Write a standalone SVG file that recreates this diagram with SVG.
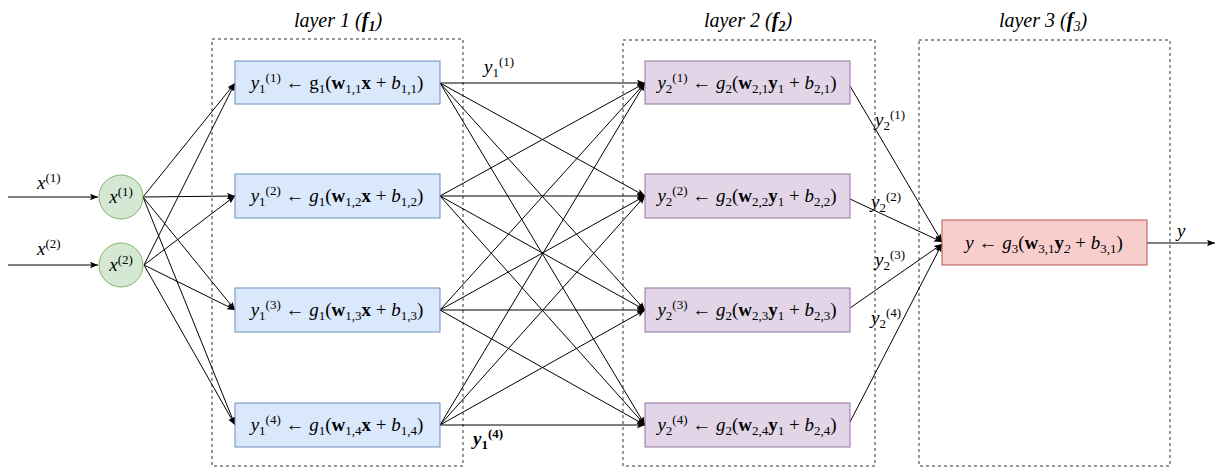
<svg xmlns="http://www.w3.org/2000/svg" width="1217" height="472" viewBox="0 0 1217 472" font-family="'Liberation Serif', 'DejaVu Serif', serif">
<style>
text, tspan{font-family:'Liberation Serif','DejaVu Serif',serif}
text{fill:#000}
.t{font-size:19px}
.h{font-size:20px}
.s{font-size:13px}
.i{font-style:italic}
.b{font-weight:bold}
.frame{fill:none;stroke:#333;stroke-width:1;stroke-dasharray:3 3}
.l1{fill:#dae8fc;stroke:#6c8ebf}
.l2{fill:#e1d5e7;stroke:#9673a6}
.l3{fill:#f8cecc;stroke:#b85450}
.in{fill:#d5e8d4;stroke:#82b366}
.c line{stroke:#000;stroke-width:1;marker-end:url(#a)}
</style>
<defs>
<marker id="a" viewBox="0 0 10 10" refX="10" refY="5" markerWidth="8" markerHeight="8" markerUnits="userSpaceOnUse" orient="auto">
<path d="M0,1 L10,5 L0,9 L2,5 Z" fill="#000"/>
</marker>
</defs>
<rect width="1217" height="472" fill="#fff"/>

<g id="frames">
<rect class="frame" x="212" y="39" width="251" height="427"/>
<rect class="frame" x="623" y="40" width="252" height="426"/>
<rect class="frame" x="919" y="40" width="251" height="426"/>
<text class="h i" x="338" y="27" text-anchor="middle">layer 1 (<tspan class="b">f</tspan><tspan class="b" dy="4" font-size="14">1</tspan><tspan dy="-4">)</tspan></text>
<text class="h i" x="748" y="27" text-anchor="middle">layer 2 (<tspan class="b">f</tspan><tspan class="b" dy="4" font-size="14">2</tspan><tspan dy="-4">)</tspan></text>
<text class="h i" x="1043" y="27" text-anchor="middle">layer 3 (<tspan class="b">f</tspan><tspan dy="4" font-size="14">3</tspan><tspan dy="-4">)</tspan></text>
</g>

<g id="connectors" class="c">
<line x1="8" y1="197" x2="98" y2="197"/>
<line x1="8" y1="265" x2="98" y2="265"/>
<line x1="143" y1="197" x2="235" y2="83"/>
<line x1="143" y1="197" x2="235" y2="196"/>
<line x1="143" y1="197" x2="235" y2="310"/>
<line x1="143" y1="197" x2="235" y2="425"/>
<line x1="144" y1="265" x2="235" y2="83"/>
<line x1="144" y1="265" x2="235" y2="196"/>
<line x1="144" y1="265" x2="235" y2="310"/>
<line x1="144" y1="265" x2="235" y2="425"/>
<line x1="440" y1="83" x2="645" y2="83"/>
<line x1="440" y1="83" x2="645" y2="196"/>
<line x1="440" y1="83" x2="645" y2="310"/>
<line x1="440" y1="83" x2="645" y2="425"/>
<line x1="440" y1="196" x2="645" y2="83"/>
<line x1="440" y1="196" x2="645" y2="196"/>
<line x1="440" y1="196" x2="645" y2="310"/>
<line x1="440" y1="196" x2="645" y2="425"/>
<line x1="440" y1="310" x2="645" y2="83"/>
<line x1="440" y1="310" x2="645" y2="196"/>
<line x1="440" y1="310" x2="645" y2="310"/>
<line x1="440" y1="310" x2="645" y2="425"/>
<line x1="440" y1="425" x2="645" y2="83"/>
<line x1="440" y1="425" x2="645" y2="196"/>
<line x1="440" y1="425" x2="645" y2="310"/>
<line x1="440" y1="425" x2="645" y2="425"/>
<line x1="850" y1="86" x2="942" y2="242"/>
<line x1="850" y1="199" x2="942" y2="242"/>
<line x1="850" y1="308" x2="942" y2="244"/>
<line x1="850" y1="422" x2="942" y2="244"/>
<line x1="1147" y1="243" x2="1215" y2="243"/>
</g>

<g id="labels">
<text class="t i" x="37" y="189">x<tspan class="s" dy="-7" font-style="normal">(1)</tspan></text>
<text class="t i" x="37" y="255">x<tspan class="s" dy="-7" font-style="normal">(2)</tspan></text>
<text class="t i" x="484" y="73">y<tspan class="s" dy="4" font-style="normal">1</tspan><tspan class="s" dy="-11" font-style="normal">(1)</tspan></text>
<text class="t i b" x="473" y="445">y<tspan class="s" dy="4" font-style="normal">1</tspan><tspan class="s" dy="-11" font-style="normal">(4)</tspan></text>
<text class="t i" x="875" y="126">y<tspan class="s" dy="4" font-style="normal">2</tspan><tspan class="s" dy="-11" font-style="normal">(1)</tspan></text>
<text class="t i" x="871" y="208">y<tspan class="s" dy="4" font-style="normal">2</tspan><tspan class="s" dy="-11" font-style="normal">(2)</tspan></text>
<text class="t i" x="875" y="266">y<tspan class="s" dy="4" font-style="normal">2</tspan><tspan class="s" dy="-11" font-style="normal">(3)</tspan></text>
<text class="t i" x="871" y="324">y<tspan class="s" dy="4" font-style="normal">2</tspan><tspan class="s" dy="-11" font-style="normal">(4)</tspan></text>
<text class="t i" x="1177" y="237">y</text>
</g>

<g id="in1"><circle class="in" cx="121" cy="197" r="22"/><text class="t i" x="121" y="203" text-anchor="middle">x<tspan class="s" dy="-7" font-style="normal">(1)</tspan></text></g>
<g id="in2"><circle class="in" cx="121" cy="265" r="22"/><text class="t i" x="121" y="271" text-anchor="middle">x<tspan class="s" dy="-7" font-style="normal">(2)</tspan></text></g>

<g id="n11"><rect class="l1" x="235" y="61" width="205" height="43"/>
<text class="t" x="337" y="89" text-anchor="middle"><tspan class="i">y</tspan><tspan class="s" dy="4">1</tspan><tspan class="s" dy="-11">(1)</tspan><tspan dy="7"> ← g</tspan><tspan class="s" dy="4">1</tspan><tspan dy="-4">(</tspan><tspan class="b">w</tspan><tspan class="s" dy="4">1,1</tspan><tspan class="b" dy="-4">x</tspan> + <tspan class="i">b</tspan><tspan class="s" dy="4">1,1</tspan><tspan dy="-4">)</tspan></text></g>
<g id="n12"><rect class="l1" x="235" y="174" width="205" height="44"/>
<text class="t" x="337" y="202" text-anchor="middle"><tspan class="i">y</tspan><tspan class="s" dy="4">1</tspan><tspan class="s" dy="-11">(2)</tspan><tspan dy="7"> ← </tspan><tspan class="i">g</tspan><tspan class="s" dy="4">1</tspan><tspan dy="-4">(</tspan><tspan class="b">w</tspan><tspan class="s" dy="4">1,2</tspan><tspan class="b" dy="-4">x</tspan> + <tspan class="i">b</tspan><tspan class="s" dy="4">1,2</tspan><tspan dy="-4">)</tspan></text></g>
<g id="n13"><rect class="l1" x="235" y="288" width="205" height="44"/>
<text class="t" x="337" y="316" text-anchor="middle"><tspan class="i">y</tspan><tspan class="s" dy="4">1</tspan><tspan class="s" dy="-11">(3)</tspan><tspan dy="7"> ← </tspan><tspan class="i">g</tspan><tspan class="s" dy="4">1</tspan><tspan dy="-4">(</tspan><tspan class="b">w</tspan><tspan class="s" dy="4">1,3</tspan><tspan class="b" dy="-4">x</tspan> + <tspan class="i">b</tspan><tspan class="s" dy="4">1,3</tspan><tspan dy="-4">)</tspan></text></g>
<g id="n14"><rect class="l1" x="235" y="403" width="205" height="44"/>
<text class="t" x="337" y="431" text-anchor="middle"><tspan class="i">y</tspan><tspan class="s" dy="4">1</tspan><tspan class="s" dy="-11">(4)</tspan><tspan dy="7"> ← </tspan><tspan class="i">g</tspan><tspan class="s" dy="4">1</tspan><tspan dy="-4">(</tspan><tspan class="b">w</tspan><tspan class="s" dy="4">1,4</tspan><tspan class="b" dy="-4">x</tspan> + <tspan class="i">b</tspan><tspan class="s" dy="4">1,4</tspan><tspan dy="-4">)</tspan></text></g>

<g id="n21"><rect class="l2" x="645" y="61" width="205" height="43"/>
<text class="t" x="747" y="89" text-anchor="middle"><tspan class="i">y</tspan><tspan class="s" dy="4">2</tspan><tspan class="s" dy="-11">(1)</tspan><tspan dy="7"> ← </tspan><tspan class="i">g</tspan><tspan class="s" dy="4">2</tspan><tspan dy="-4">(</tspan><tspan class="b">w</tspan><tspan class="s" dy="4">2,1</tspan><tspan class="b" dy="-4">y</tspan><tspan class="s" dy="4">1</tspan><tspan dy="-4"> + </tspan><tspan class="i">b</tspan><tspan class="s" dy="4">2,1</tspan><tspan dy="-4">)</tspan></text></g>
<g id="n22"><rect class="l2" x="645" y="174" width="205" height="44"/>
<text class="t" x="747" y="202" text-anchor="middle"><tspan class="i">y</tspan><tspan class="s" dy="4">2</tspan><tspan class="s" dy="-11">(2)</tspan><tspan dy="7"> ← </tspan><tspan class="i">g</tspan><tspan class="s" dy="4">2</tspan><tspan dy="-4">(</tspan><tspan class="b">w</tspan><tspan class="s" dy="4">2,2</tspan><tspan class="b" dy="-4">y</tspan><tspan class="s" dy="4">1</tspan><tspan dy="-4"> + </tspan><tspan class="i">b</tspan><tspan class="s" dy="4">2,2</tspan><tspan dy="-4">)</tspan></text></g>
<g id="n23"><rect class="l2" x="645" y="288" width="205" height="44"/>
<text class="t" x="747" y="316" text-anchor="middle"><tspan class="i">y</tspan><tspan class="s" dy="4">2</tspan><tspan class="s" dy="-11">(3)</tspan><tspan dy="7"> ← </tspan><tspan class="i">g</tspan><tspan class="s" dy="4">2</tspan><tspan dy="-4">(</tspan><tspan class="b">w</tspan><tspan class="s" dy="4">2,3</tspan><tspan class="b" dy="-4">y</tspan><tspan class="s" dy="4">1</tspan><tspan dy="-4"> + </tspan><tspan class="i">b</tspan><tspan class="s" dy="4">2,3</tspan><tspan dy="-4">)</tspan></text></g>
<g id="n24"><rect class="l2" x="645" y="403" width="205" height="44"/>
<text class="t" x="747" y="431" text-anchor="middle"><tspan class="i">y</tspan><tspan class="s" dy="4">2</tspan><tspan class="s" dy="-11">(4)</tspan><tspan dy="7"> ← </tspan><tspan class="i">g</tspan><tspan class="s" dy="4">2</tspan><tspan dy="-4">(</tspan><tspan class="b">w</tspan><tspan class="s" dy="4">2,4</tspan><tspan class="b" dy="-4">y</tspan><tspan class="s" dy="4">1</tspan><tspan dy="-4"> + </tspan><tspan class="i">b</tspan><tspan class="s" dy="4">2,4</tspan><tspan dy="-4">)</tspan></text></g>

<g id="n31"><rect class="l3" x="942" y="220" width="205" height="45"/>
<text class="t" x="1044" y="249" text-anchor="middle"><tspan class="i">y</tspan> ← <tspan class="i">g</tspan><tspan class="s" dy="4">3</tspan><tspan dy="-4">(</tspan><tspan class="b">w</tspan><tspan class="s" dy="4">3,1</tspan><tspan class="b" dy="-4">y</tspan><tspan class="s i" dy="4">2</tspan><tspan dy="-4"> + </tspan><tspan class="i">b</tspan><tspan class="s" dy="4">3,1</tspan><tspan dy="-4">)</tspan></text></g>
</svg>
